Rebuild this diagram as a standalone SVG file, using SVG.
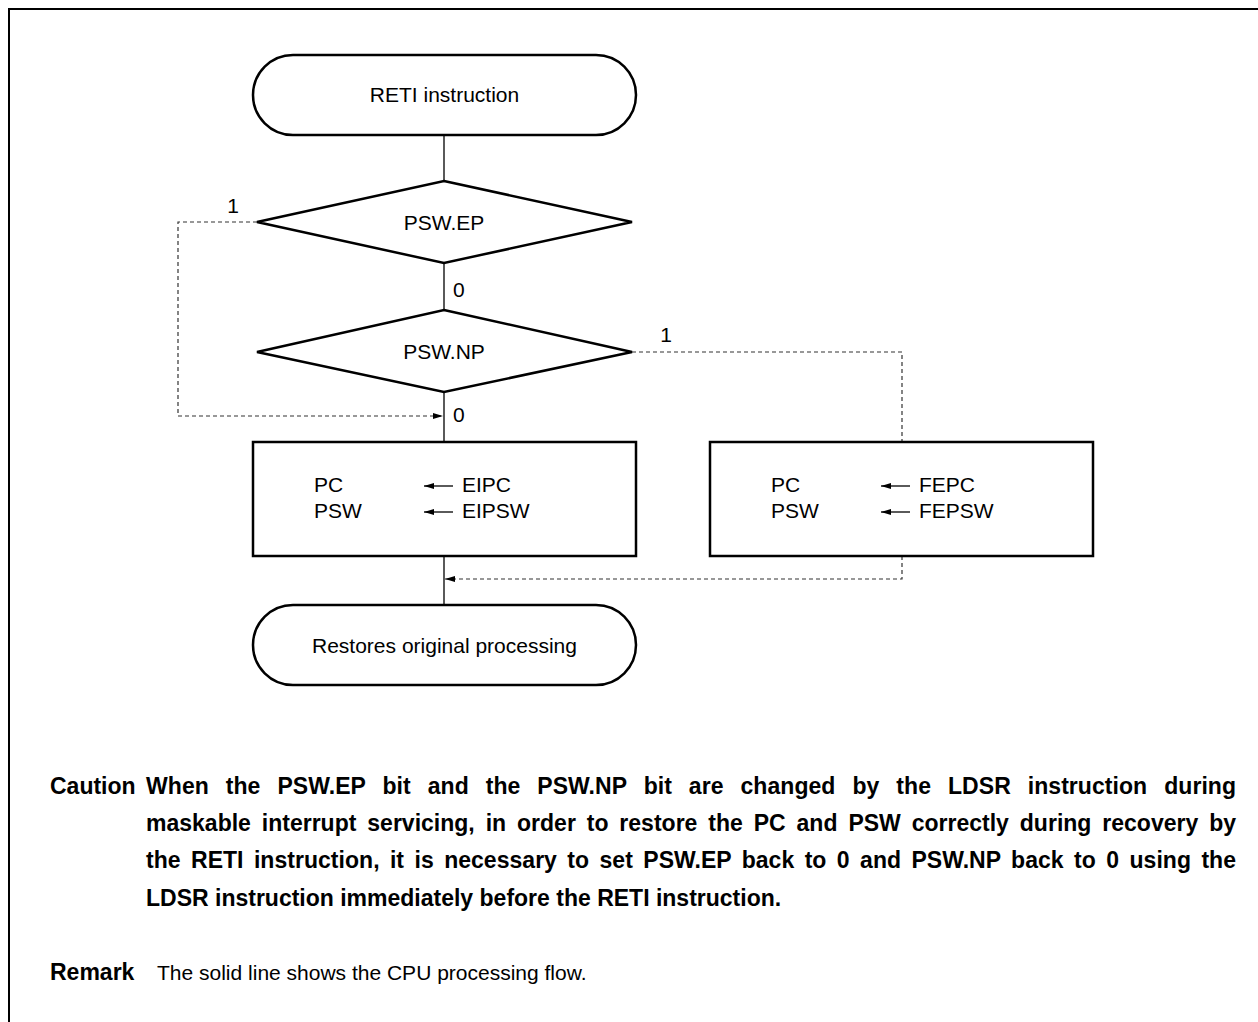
<svg xmlns="http://www.w3.org/2000/svg" width="1258" height="1022" viewBox="0 0 1258 1022">
<style>
text{font-family:"Liberation Sans",Arial,sans-serif;font-size:21px;fill:#000}
.c{text-anchor:middle}
.shape{fill:#fff;stroke:#000;stroke-width:2.5}
.solid{fill:none;stroke:#000;stroke-width:1.3}
.dash{fill:none;stroke:#333;stroke-width:1.2;stroke-dasharray:4 3}
.b{font-weight:bold;font-size:23px}
.r{font-size:21px}
</style>
<defs>
<marker id="ah" markerWidth="10" markerHeight="6" refX="10" refY="3" orient="auto" markerUnits="userSpaceOnUse">
<path d="M0,0 L10,3 L0,6 Z" fill="#000"/>
</marker>
</defs>
<rect x="9" y="9" width="1270" height="1040" fill="none" stroke="#000" stroke-width="2"/>
<g id="connectors">
<line class="solid" x1="444" y1="135" x2="444" y2="181"/>
<line class="solid" x1="444" y1="263" x2="444" y2="310"/>
<line class="solid" x1="444" y1="392" x2="444" y2="442"/>
<line class="solid" x1="444" y1="556" x2="444" y2="605"/>
<path class="dash" d="M257,222 H178 V416 H443" marker-end="url(#ah)"/>
<path class="dash" d="M632,352 H902 V442"/>
<path class="dash" d="M902,556 V579 H445" marker-end="url(#ah)"/>
<text x="233" y="213" class="c">1</text>
<text x="666" y="342" class="c">1</text>
<text x="453" y="297">0</text>
<text x="453" y="422">0</text>
</g>
<g id="start">
<rect class="shape" x="253" y="55" width="383" height="80" rx="40" ry="40"/>
<text x="444.5" y="102" class="c">RETI instruction</text>
</g>
<g id="dec-ep">
<polygon class="shape" points="444,181 632,222 444,263 257,222"/>
<text x="444" y="230" class="c">PSW.EP</text>
</g>
<g id="dec-np">
<polygon class="shape" points="444,310 632,352 444,392 257,352"/>
<text x="444" y="359" class="c">PSW.NP</text>
</g>
<g id="box-ei">
<rect class="shape" x="253" y="442" width="383" height="114"/>
<text x="314" y="492">PC</text>
<text x="314" y="518">PSW</text>
<line class="solid" x1="453" y1="486" x2="424" y2="486" marker-end="url(#ah)"/>
<line class="solid" x1="453" y1="512" x2="424" y2="512" marker-end="url(#ah)"/>
<text x="462" y="492">EIPC</text>
<text x="462" y="518">EIPSW</text>
</g>
<g id="box-fe">
<rect class="shape" x="710" y="442" width="383" height="114"/>
<text x="771" y="492">PC</text>
<text x="771" y="518">PSW</text>
<line class="solid" x1="910" y1="486" x2="881" y2="486" marker-end="url(#ah)"/>
<line class="solid" x1="910" y1="512" x2="881" y2="512" marker-end="url(#ah)"/>
<text x="919" y="492">FEPC</text>
<text x="919" y="518">FEPSW</text>
</g>
<g id="end">
<rect class="shape" x="253" y="605" width="383" height="80" rx="40" ry="40"/>
<text x="444.5" y="653" class="c">Restores original processing</text>
</g>
<g id="notes">
<text x="50" y="794" class="b">Caution</text>
<text x="146" y="794" class="b" word-spacing="10.5" textLength="1090" lengthAdjust="spacing">When the PSW.EP bit and the PSW.NP bit are changed by the LDSR instruction during</text>
<text x="146" y="831" class="b" word-spacing="4.5" textLength="1090" lengthAdjust="spacing">maskable interrupt servicing, in order to restore the PC and PSW correctly during recovery by</text>
<text x="146" y="868" class="b" word-spacing="4" textLength="1090" lengthAdjust="spacing">the RETI instruction, it is necessary to set PSW.EP back to 0 and PSW.NP back to 0 using the</text>
<text x="146" y="906" class="b">LDSR instruction immediately before the RETI instruction.</text>
<text x="50" y="980" class="b">Remark</text>
<text x="157" y="980" class="r">The solid line shows the CPU processing flow.</text>
</g>
</svg>
